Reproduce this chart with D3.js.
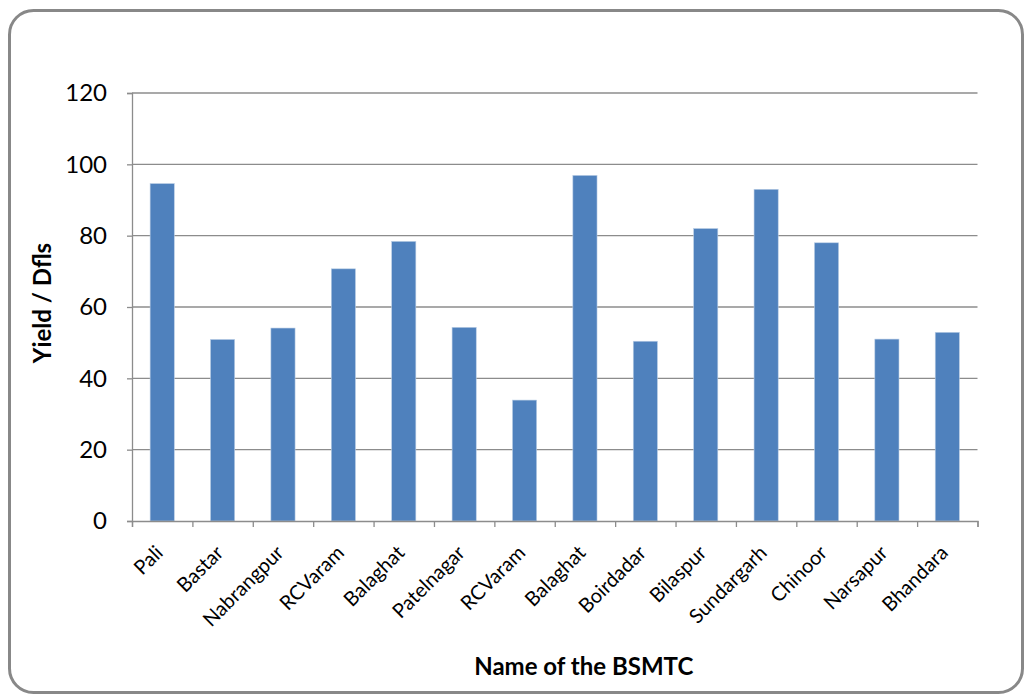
<!DOCTYPE html>
<html><head><meta charset="utf-8">
<script src="https://cdn.jsdelivr.net/npm/d3@7"></script>
<style>body{margin:0;background:#fff;} svg{display:block;}</style>
</head><body>
<svg id="chart" width="1025" height="694"></svg>
<script>
const categories = ["Pali","Bastar","Nabrangpur","RCVaram","Balaghat","Patelnagar","RCVaram","Balaghat","Boirdadar","Bilaspur","Sundargarh","Chinoor","Narsapur","Bhandara"];
const values = [94.6,50.9,54.1,70.7,78.4,54.3,33.9,96.9,50.4,82.0,93.0,78.0,51.0,52.9];
const yTicks = [0,20,40,60,80,100,120];
const xTitle = "Name of the BSMTC";
const yTitle = "Yield / Dfls";

const svg = d3.select("#chart");
const font = "Lato, 'Open Sans', sans-serif";
const L = 132, R = 977.5, T = 93, B = 521;

svg.append("rect").attr("x",9.5).attr("y",10.5).attr("width",1013).attr("height",682)
  .attr("rx",24).attr("fill","#fff").attr("stroke","#888").attr("stroke-width",3);

const idx = categories.map((d,i)=>i);
const x = d3.scaleBand().domain(idx).range([L,R]).paddingInner(0.6).paddingOuter(0.3);
const y = d3.scaleLinear().domain([0,120]).range([B,T]);

// gridlines
svg.append("g").selectAll("line").data(yTicks.filter(d=>d>0)).join("line")
  .attr("x1",L).attr("x2",R).attr("y1",d=>y(d)).attr("y2",d=>y(d))
  .attr("stroke","#8c8c8c").attr("stroke-width",1.3);

// bars
svg.append("g").selectAll("rect").data(values).join("rect")
  .attr("x",(d,i)=>x(i)).attr("width",x.bandwidth())
  .attr("y",d=>y(d)).attr("height",d=>B-y(d))
  .attr("fill","#4f81bd").attr("stroke","#b9cde5").attr("stroke-width",0.6);

// y axis
const yAxis = svg.append("g").attr("transform",`translate(${L},0)`)
  .call(d3.axisLeft(y).tickValues(yTicks).tickSize(5).tickPadding(20));
yAxis.select(".domain").attr("stroke","#8c8c8c").attr("stroke-width",1.3);
yAxis.selectAll(".tick line").attr("stroke","#8c8c8c").attr("stroke-width",1.3);
yAxis.selectAll("text").attr("font-family",font).attr("font-size",24).attr("fill","#000");

// x axis with ticks at band boundaries
const xb = d3.scaleLinear().domain([0,categories.length]).range([L,R]);
const xAxis = svg.append("g").attr("transform",`translate(0,${B})`)
  .call(d3.axisBottom(xb).tickValues(d3.range(categories.length+1)).tickSize(6).tickFormat(""));
xAxis.select(".domain").attr("stroke","#8c8c8c").attr("stroke-width",1.3);
xAxis.selectAll(".tick line").attr("stroke","#8c8c8c").attr("stroke-width",1.3);

svg.append("g").selectAll("text").data(categories).join("text")
  .attr("transform",(d,i)=>`translate(${x(i)+x.bandwidth()/2+2},${B+33}) rotate(-45)`)
  .attr("text-anchor","end").attr("font-family",font).attr("font-size",20).attr("fill","#000")
  .text(d=>d);

svg.append("text").attr("x",(L+R)/2 + 29).attr("y",675).attr("text-anchor","middle")
  .attr("font-family",font).attr("font-weight","bold").attr("font-size",24).text(xTitle);
svg.append("text").attr("transform",`translate(51,${(T+B)/2-4}) rotate(-90)`).attr("text-anchor","middle")
  .attr("font-family",font).attr("font-weight","bold").attr("font-size",24).text(yTitle);
</script>
</body></html>
